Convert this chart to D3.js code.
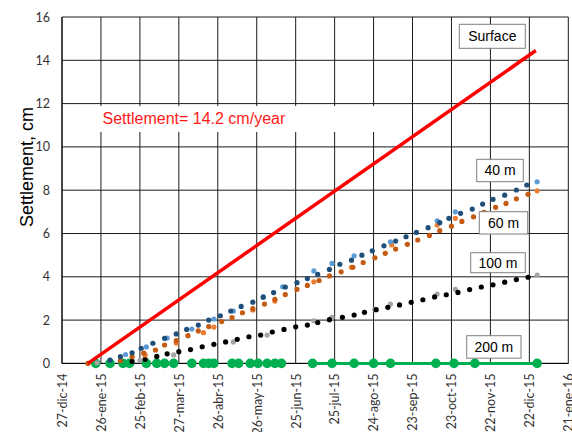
<!DOCTYPE html>
<html><head><meta charset="utf-8">
<script src="https://cdn.jsdelivr.net/npm/d3@7"></script>
<style>body{margin:0;background:#fff}</style>
</head><body>
<script>
// ---- DATA (days since 27-dic-14, settlement in cm) ----
const xTickLabels = ["27-dic-14","26-ene-15","25-feb-15","27-mar-15","26-abr-15","26-may-15","25-jun-15","25-jul-15","24-ago-15","23-sep-15","23-oct-15","22-nov-15","22-dic-15","21-ene-16"];
const yTicks = [0,2,4,6,8,10,12,14,16];

const surfaceDays = [20, 365];
const surfaceVals = [0, 14.45];

const days40 = [37,45,54,61,70,79,88,96,105,113,122,130,138,147,155,163,172,181,189,197,206,214,223,231,239,248,257,265,273,282,291,298,307,316,324,332,341,350,358];
const vals40 = [0.15,0.31,0.49,0.70,0.93,1.16,1.36,1.57,1.77,2.00,2.20,2.42,2.63,2.83,3.05,3.27,3.53,3.73,3.92,4.11,4.34,4.58,4.77,5.00,5.20,5.43,5.65,5.85,6.05,6.27,6.50,6.70,6.93,7.13,7.36,7.58,7.77,8.01,8.24];
const days40b = [49,65,81,100,117,132,155,170,194,208,225,253,289,303,366];
const vals40b = [0.41,0.76,1.17,1.59,2.05,2.42,3.08,3.54,4.27,4.62,4.97,5.62,6.59,7.00,8.39];

const days60 = [20,45,54,63,72,79,88,97,105,113,123,131,139,147,156,164,172,181,189,198,206,215,224,232,241,249,257,266,274,283,291,300,308,317,325,334,342,350,359];
const vals60 = [0.0,0.13,0.31,0.47,0.62,0.85,1.05,1.28,1.50,1.70,1.93,2.12,2.34,2.53,2.74,2.96,3.18,3.42,3.60,3.83,4.04,4.23,4.44,4.66,4.88,5.08,5.28,5.50,5.70,5.91,6.13,6.34,6.56,6.77,6.98,7.21,7.39,7.60,7.81];
const days60b = [64,88,109,117,147,164,194,223,254,289,303,366];
const vals60b = [0.39,0.94,1.42,1.68,2.47,2.88,3.77,4.44,5.47,6.39,6.70,7.97];

const days100 = [54,64,73,81,90,99,108,117,126,135,144,153,162,171,180,189,197,206,216,225,233,242,251,260,269,278,287,296,305,314,323,332,341,350,359];
const vals100 = [0.09,0.19,0.32,0.44,0.54,0.64,0.77,0.88,0.99,1.11,1.23,1.31,1.45,1.57,1.69,1.77,1.89,2.02,2.13,2.23,2.36,2.48,2.59,2.70,2.82,2.94,3.07,3.17,3.28,3.41,3.53,3.63,3.75,3.87,3.98];
const days100b = [27,60,86,132,158,194,208,241,253,289,303,366];
const vals100b = [0.03,0.13,0.39,0.99,1.31,1.97,2.13,2.50,2.74,3.20,3.42,4.08];

const days200a = [26,37,47,52,65,73,79,86,100,109,113,117,131,136,145,151,158,164,169];
const vals200a = [0,0,0,0,0,0,0,0,0,0,0,0,0,0,0,0,0,0,0];
const days200b = [193,208,225,240,253,288,302,318,366];
const vals200b = [0,0,0,0,0,0,0,0,0];

// ---- CHART ----
const W = 572, H = 432;
const monthMap = {ene:0,feb:1,mar:2,abr:3,may:4,jun:5,jul:6,ago:7,sep:8,oct:9,nov:10,dic:11};
const parseEs = s => { const [d,m,y] = s.split("-"); return new Date(2000 + +y, monthMap[m], +d); };
const tickDates = xTickLabels.map(parseEs);
const start = tickDates[0];
const dayDate = d => d3.timeDay.offset(start, d);

const x = d3.scaleTime().domain([tickDates[0], tickDates[tickDates.length-1]]).range([62, 568.3]);
const y = d3.scaleLinear().domain([0, 16]).range([363.4, 17]);

const svg = d3.select("body").append("svg").attr("width", W).attr("height", H)
  .style("font-family", "Lato, 'Open Sans', sans-serif");
svg.append("rect").attr("width", W).attr("height", H).attr("fill", "#fff");

// gridlines
const grid = svg.append("g").attr("stroke", "#1a1a1a").attr("stroke-width", 1);
grid.selectAll("line.h").data(yTicks).join("line")
  .attr("x1", x.range()[0]).attr("x2", x.range()[1])
  .attr("y1", d => y(d)).attr("y2", d => y(d));
grid.selectAll("line.v").data(tickDates).join("line")
  .attr("x1", d => x(d)).attr("x2", d => x(d))
  .attr("y1", y.range()[0]).attr("y2", y.range()[1]);

// white label box for the rate annotation
svg.append("rect").attr("x", 66).attr("y", 106).attr("width", 322).attr("height", 26).attr("fill", "#fff");
svg.append("text").attr("x", 102.5).attr("y", 124.3)
  .attr("fill", "#ff1a1a").style("font-family", "'Liberation Sans', Arial, sans-serif")
  .style("font-size", "16px").text("Settlement= 14.2 cm/year");

// axes lines
svg.append("line").attr("x1", x.range()[0]).attr("x2", x.range()[0]).attr("y1", y.range()[0]).attr("y2", y.range()[1]).attr("stroke", "#000");
svg.append("line").attr("x1", x.range()[0]).attr("x2", x.range()[1]).attr("y1", y.range()[0]).attr("y2", y.range()[0]).attr("stroke", "#000");

// y axis
const yAxis = svg.append("g").attr("transform", `translate(${x.range()[0]},0)`)
  .call(d3.axisLeft(y).tickValues(yTicks).tickSize(0).tickPadding(12));
yAxis.select(".domain").remove();
yAxis.selectAll("text").style("font-size", "12.5px").style("font-family", "Lato, sans-serif").attr("fill", "#333");

// x axis
const xAxis = svg.append("g").attr("transform", `translate(0,${y.range()[0]})`)
  .call(d3.axisBottom(x).tickValues(tickDates).tickFormat((d, i) => xTickLabels[i]).tickSize(0));
xAxis.select(".domain").remove();
xAxis.selectAll("text")
  .attr("transform", "rotate(-90)").attr("x", -10).attr("y", 0).attr("dy", "0.35em")
  .style("text-anchor", "end").style("font-size", "12.5px").style("font-family", "Lato, sans-serif").attr("fill", "#333");

// y title
svg.append("text").attr("transform", "translate(27,167) rotate(-90)").attr("dy", "0.35em")
  .attr("text-anchor", "middle").style("font-family", "'Liberation Sans', Arial, sans-serif")
  .style("font-size", "18px").attr("fill", "#000").text("Settlement, cm");

// series helper
const pts = (days, vals) => days.map((d, i) => ({date: dayDate(d), v: vals[i]}));
const line = d3.line().x(d => x(d.date)).y(d => y(d.v));
function dots(data, color, r) {
  svg.append("g").selectAll("circle").data(data).join("circle")
    .attr("cx", d => x(d.date)).attr("cy", d => y(d.v)).attr("r", r).attr("fill", color);
}

// 200 m
dots(pts(days200a, vals200a), "#00B050", 4.8);
const g200 = pts(days200b, vals200b);
svg.append("path").datum(g200).attr("d", line).attr("fill", "none").attr("stroke", "#00B050").attr("stroke-width", 3);
dots(g200, "#00B050", 4.8);

// 100 m
dots(pts(days100b, vals100b), "#A5A5A5", 2.6);
dots(pts(days100, vals100), "#000000", 2.6);
// 60 m
dots(pts(days60b, vals60b), "#ED7D31", 2.6);
dots(pts(days60, vals60), "#C55A11", 2.6);
// 40 m
dots(pts(days40b, vals40b), "#5B9BD5", 2.6);
dots(pts(days40, vals40), "#1F4E79", 2.6);

// surface
svg.append("path").datum(pts(surfaceDays, surfaceVals)).attr("d", line)
  .attr("fill", "none").attr("stroke", "#ff0000").attr("stroke-width", 3.5);

// annotation boxes
const boxes = [
  {t: "Surface", x: 459.3, y: 24.3, w: 66, h: 24},
  {t: "40 m", x: 476.7, y: 159.3, w: 46.6, h: 22.4},
  {t: "60 m", x: 479.3, y: 211.7, w: 48.4, h: 22.3},
  {t: "100 m", x: 470.7, y: 252.7, w: 54.6, h: 20},
  {t: "200 m", x: 466.7, y: 335.7, w: 54.3, h: 22.5}
];
const bg = svg.append("g").selectAll("g").data(boxes).join("g");
bg.append("rect").attr("x", d => d.x).attr("y", d => d.y).attr("width", d => d.w).attr("height", d => d.h)
  .attr("fill", "#fff").attr("stroke", "#7f7f7f").attr("stroke-width", 1);
bg.append("text").attr("x", d => d.x + d.w / 2).attr("y", d => d.y + d.h / 2).attr("dy", "0.35em")
  .attr("text-anchor", "middle").style("font-family", "'Liberation Sans', Arial, sans-serif")
  .style("font-size", "14px").attr("fill", "#000").text(d => d.t);
</script>
</body></html>
